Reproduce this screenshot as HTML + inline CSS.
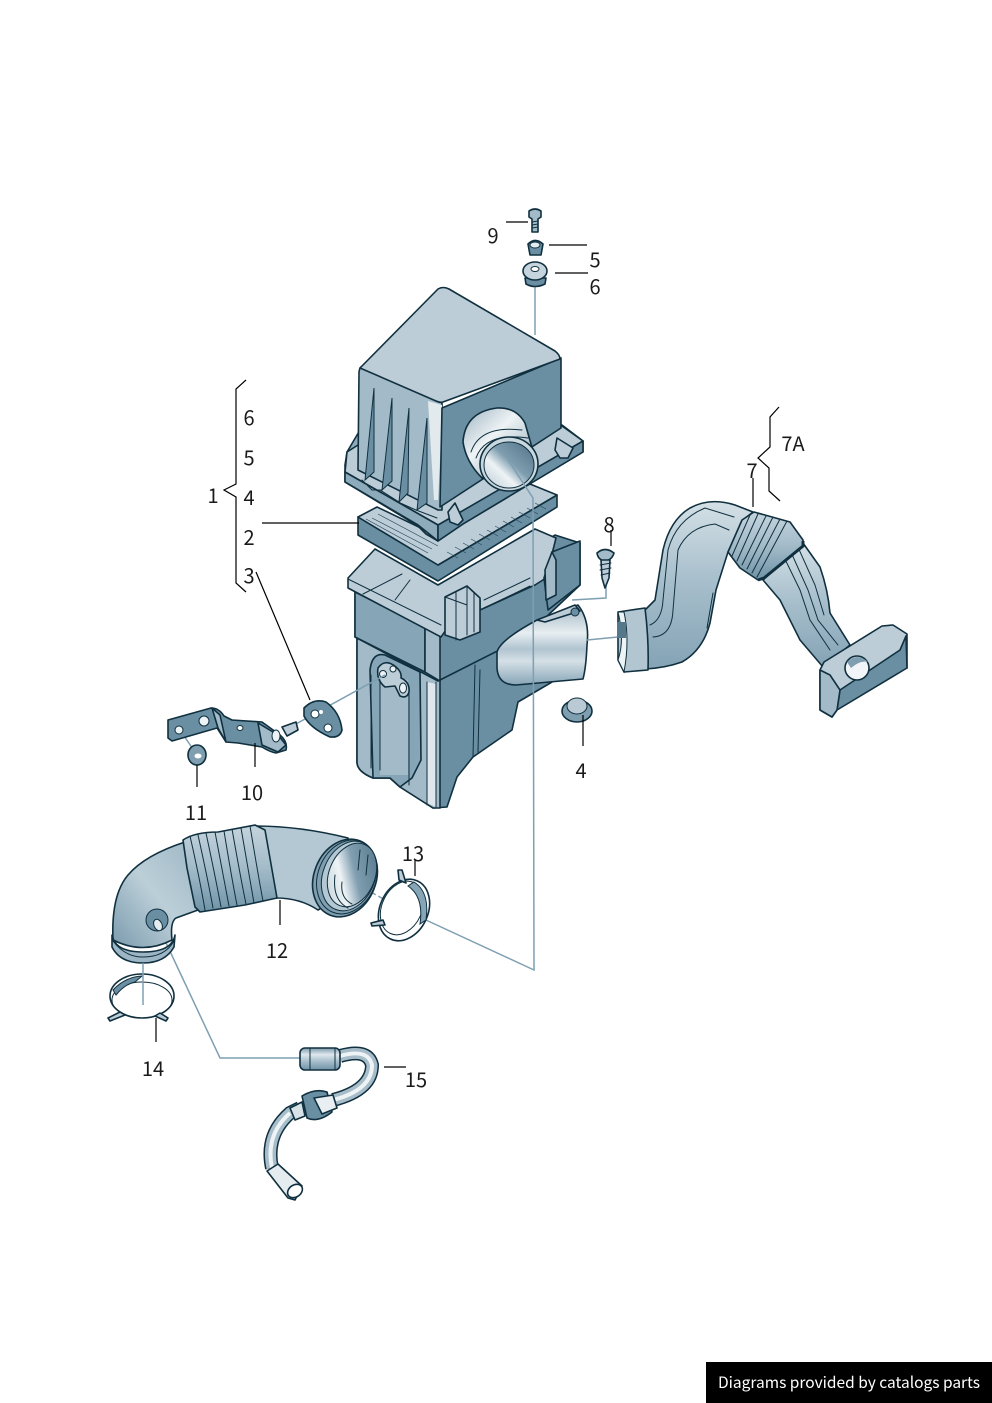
<!DOCTYPE html>
<html><head><meta charset="utf-8"><style>
html,body{margin:0;padding:0;background:#fff}
svg{display:block}
text{font-family:"Noto Sans CJK JP","Liberation Sans",sans-serif;font-size:20px;fill:#1a1a1a}
.o{stroke:#10303f;stroke-width:1.6;stroke-linejoin:round;stroke-linecap:round}
.t{stroke:#10303f;stroke-width:1;fill:none;stroke-linecap:round}
.l{stroke:#000;stroke-width:1.2;fill:none}
.c{stroke:#7f9fb2;stroke-width:1.5;fill:none}
.top{fill:#bccdd7}.mid{fill:#a3bbc9}.dk{fill:#6a8fa3}
</style></head><body>
<svg width="992" height="1403" viewBox="0 0 992 1403" xmlns="http://www.w3.org/2000/svg">
<defs>
<linearGradient id="tube" x1="0" y1="0" x2="0" y2="1"><stop offset="0" stop-color="#7c9aac"/><stop offset=".3" stop-color="#dfe8ed"/><stop offset=".6" stop-color="#a8bfcc"/><stop offset="1" stop-color="#6f93a7"/></linearGradient>
<linearGradient id="pipe" x1="0" y1="0" x2="0" y2="1"><stop offset="0" stop-color="#9fb6c4"/><stop offset=".35" stop-color="#e8eef1"/><stop offset=".55" stop-color="#b0c4d0"/><stop offset=".7" stop-color="#d5e0e6"/><stop offset="1" stop-color="#87a5b7"/></linearGradient>
<linearGradient id="h7" x1="0" y1="0" x2="0" y2="1"><stop offset="0" stop-color="#d4e0e6"/><stop offset=".45" stop-color="#a9c0cd"/><stop offset="1" stop-color="#84a3b5"/></linearGradient>
<linearGradient id="h12" x1="0" y1="1" x2="1" y2="0"><stop offset="0" stop-color="#7b9bae"/><stop offset=".5" stop-color="#bccfd8"/><stop offset="1" stop-color="#9db6c5"/></linearGradient>
<linearGradient id="rib" x1="0" y1="0" x2="0" y2="1"><stop offset="0" stop-color="#c4d4dd"/><stop offset=".5" stop-color="#a3bbc9"/><stop offset="1" stop-color="#6f93a7"/></linearGradient>
<linearGradient id="barrel" x1="0" y1="0" x2="1" y2="1"><stop offset="0" stop-color="#9eb4c1"/><stop offset=".4" stop-color="#eef3f5"/><stop offset="1" stop-color="#7e9cae"/></linearGradient>
<linearGradient id="inner" x1="1" y1="0" x2="0" y2="1"><stop offset="0" stop-color="#4f7185"/><stop offset=".45" stop-color="#7f9eb0"/><stop offset=".65" stop-color="#eef3f5"/><stop offset="1" stop-color="#b8cad4"/></linearGradient>
</defs>

<!-- lower box -->
<path class="o dk" d="M357,637 L357,763 Q358,772 373,778 L390,778 L400,787 L433,808 L447,807 L457,777 L473,757 L512,730 L518,702 L552,682 L552,640 L440,660 Z"/>
<path class="o mid" d="M357,637 L357,763 Q358,772 373,778 L390,778 L400,787 L433,808 L440,808 L440,680 Z"/>
<path class="o" fill="#86a6b8" d="M370,670 Q372,652 385,655 L420,672 L421,760 L412,778 L400,787 L390,778 L373,778 Z"/>
<path class="mid" d="M380,672 L408,680 L408,775 L390,775 L380,775 Z"/>
<path fill="#dfe7ec" d="M427,682 L436,684 L436,807 L427,803 Z"/>
<path class="o" fill="#bccdd7" d="M378,668 Q385,658 396,667 Q402,672 401,678 Q410,682 409,692 Q407,699 400,696 L395,686 L385,687 Q376,680 378,668 Z"/>
<circle cx="383" cy="674" r="3.5" fill="#eef3f5" stroke="#10303f"/><circle cx="393" cy="669" r="3" fill="#eef3f5" stroke="#10303f"/><ellipse cx="403" cy="688" rx="3.5" ry="5" fill="#eef3f5" stroke="#10303f"/>
<path class="t" d="M371,675 L371,768 M380,680 L380,770 M409,690 L409,785 M427,682 L427,805 M436,682 L436,807 M475,665 L473,757 M480,670 L478,752"/>
<!-- box upper band -->
<path class="o dk" d="M355,592 L355,637 L438,681 L525,637 L580,585 L580,543 L555,535 L450,600 Z"/>
<path class="o" fill="#86a6b8" d="M355,592 L355,637 L425,672 L425,627 Z"/>
<path class="o" fill="#a3bbc9" d="M425,627 L425,672 L440,681 L440,636 Z"/>
<!-- box rim -->
<path class="o top" d="M348,578 L375,549 L438,585 L535,529 L556,538 L546,578 L535,585 L480,610 L480,600 L448,627 L441,637 L348,588 Z"/>
<path class="t" d="M348,579 L441,625 M363,594 L402,574 M395,600 L410,580"/>
<path class="o dk" d="M544,578 L552,552 L580,541 L580,585 L548,610 Z"/>
<path class="o" fill="#a3bbc9" d="M552,552 L545,570 L546,600 L556,595 L556,560 Z"/>
<path class="o top" d="M445,597 L467,586 L480,598 L480,632 L460,640 L445,635 Z"/>
<path class="t" d="M456,592 L456,640 M467,586 L467,635 M474,592 L474,632 M445,597 L467,605"/>
<path class="t" d="M484,600 L530,578 M484,608 L530,586"/>
<!-- pipe -->
<path class="o" fill="url(#pipe)" d="M497,652 Q500,640 537,620 L578,605 Q590,620 587,645 Q586,668 583,679 L516,685 Q498,685 497,668 Z"/>
<path class="o top" d="M537,620 L575,605 L580,611 L545,622 Z"/>
<circle cx="575" cy="612" r="4" fill="#6a8fa3" stroke="#10303f"/>

<!-- filter -->
<path class="o dk" d="M358,517 L358,535 L438,581 L557,507 L557,495 L438,565 Z"/>
<path class="o top" d="M358,517 L377,507 L425,530 L530,484 L557,495 L438,565 Z"/>
<path fill="none" stroke="#284a5c" stroke-width=".7" d="M372,518 L432,549 M366,519 L428,553 M378,514 L438,546 M447,552 L458,558 M455,547 L466,553 M463,543 L474,549 M471,539 L482,545 M479,534 L490,540 M487,530 L498,536 M495,526 L506,532 M503,521 L514,527 M511,517 L522,523 M519,512 L530,518 M527,508 L538,514 M535,503 L546,509"/>

<!-- lid -->
<path class="o" fill="#8eabbb" d="M345,465 L345,482 L418,526 L426,534 L438,541 L463,524 L583,452 L583,441 L562,425 L360,430 L347,452 Z"/>
<path class="o top" d="M347,452 L358,445 L562,426 L583,441 L463,514 L438,525 L345,472 Z"/>
<path class="o" fill="#8eabbb" d="M345,472 L345,482 L418,525 L438,541 L438,525 Z"/>
<path class="o dk" d="M438,525 L438,541 L463,524 L583,452 L583,441 Z"/>
<path class="o mid" d="M359,372 Q360,366 362,367 L442,403 L442,510 L438,510 L358,470 Z"/>
<path fill="#e2eaee" d="M428,401 L442,405 L442,420 L438,500 L434,500 Z"/>
<path class="o dk" d="M442,408 L561,358 L561,428 L440,507 Z"/>
<path class="o top" d="M360,368 L438,289 Q443,286 449,289 L555,351 Q560,355 560,359 L443,402 Q440,403 436,401 Z"/>
<path fill="#6a8fa3" stroke="#10303f" d="M374,388 L365,480 L374,472 Z M392,398 L382,490 L392,481 Z M409,408 L399,502 L408,493 Z M427,418 L417,510 L427,503 Z"/>
<path class="t" d="M362,480 L372,490 L382,490 M380,490 L399,502 M398,502 L416,510 M416,510 L437,518"/>
<path class="o top" d="M448,512 L455,503 L463,520 L458,525 L450,522 Z"/>
<path class="o top" d="M555,450 L557,438 L573,448 L568,458 L560,458 Z"/>
<!-- inlet -->
<path class="o" fill="url(#barrel)" d="M463,442 Q465,412 497,408 Q516,407 525,423 L537,465 L482,478 Q466,462 463,442 Z"/>
<path class="t" d="M471,452 Q480,425 522,430 M476,458 Q485,432 528,438"/>
<ellipse cx="509" cy="464" rx="29" ry="27" fill="#c9d7de" stroke="#10303f" stroke-width="1.6"/>
<ellipse cx="509" cy="465" rx="25" ry="23" fill="url(#inner)" stroke="#10303f" stroke-width="1"/>

<!-- connectors -->
<path class="c" d="M535,285 L535,335"/>
<path class="c" d="M508,460 L533,498 L534,970 L400,908"/>
<path class="c" stroke-dasharray="28 3 4 3" d="M345,878 L400,908"/>
<path class="c" d="M385,675 L285,730"/>
<path class="c" d="M180,730 L197,755"/>
<path class="c" d="M572,600 L606,598 L606,585"/>
<path class="c" d="M587,640 L618,637"/>
<path class="c" d="M160,930 L220,1058 L300,1058"/>

<!-- 9 5 6 hardware -->
<path class="o mid" d="M529,211 Q535,207 541,211 L541,217 L538,219 L538,232 L532,232 L532,219 L529,217 Z"/>
<path class="t" d="M532,222 L538,221 M532,225 L538,224 M532,228 L538,227"/>
<path class="o dk" d="M528,244 Q535,237 543,244 L541,255 L530,255 Z"/>
<ellipse cx="535" cy="245" rx="5" ry="3" fill="#e5ecf0" stroke="#10303f"/>
<path class="o dk" d="M525,278 L526,284 Q535,289 545,284 L546,278 Z"/>
<ellipse cx="535" cy="271" rx="12" ry="9" fill="#c6d5dd" stroke="#10303f" stroke-width="1.6"/>
<ellipse cx="535" cy="269" rx="4" ry="2.5" fill="#fff" stroke="#10303f"/>

<!-- screw 8 -->
<path class="o mid" d="M597,553 Q605,546 614,553 Q612,560 605,561 Q598,560 597,553 Z"/>
<path class="o top" d="M601,560 L610,560 L609,578 L605,588 L602,578 Z"/>
<path class="t" d="M600,565 L611,563 M600,570 L611,568 M601,575 L610,573"/>

<!-- cap 4 -->
<ellipse cx="577" cy="711" rx="15" ry="11" fill="#7f9eb0" stroke="#10303f" stroke-width="1.6"/>
<ellipse cx="577" cy="706" rx="10" ry="8" fill="#b9cad4" stroke="#10303f"/>

<!-- hose 7 -->
<path class="o" fill="url(#h7)" d="M645,610 L655,600 L663,550 Q670,520 690,508 Q710,497 735,505 L753,512 L743,520 L728,552 L716,590 L710,623 Q703,650 682,662 Q665,668 645,669 Z"/>
<path class="t" d="M650,625 Q662,620 663,600 L668,550 Q676,520 705,508 L734,517 M653,637 Q672,636 673,610 L678,550 Q688,527 715,524 L729,530 M713,593 L707,628"/>
<path class="o" fill="url(#h7)" d="M763,580 L803,543 L820,567 Q828,590 830,613 L850,645 L823,667 L800,640 L780,600 Z"/>
<path class="t" d="M782,553 L800,590 L810,620 L830,650 M790,550 L808,590 L818,620 L838,645 M797,545 L815,585 L824,615"/>
<path class="o" fill="url(#rib)" d="M728,552 L742,520 L754,512 L790,522 L803,540 L803,546 L764,578 L758,580 L740,568 Z"/>
<path class="t" d="M750,515 L732,556 M758,514 L737,561 M766,516 L742,565 M773,517 L747,569 M780,519 L752,573 M787,521 L757,577" />
<path d="M803,541 L803,546 L764,578 L758,580" fill="none" stroke="#10303f" stroke-width="3"/>
<path class="o" fill="#b2c6d1" d="M618,612 L645,608 Q649,640 648,670 L624,672 L618,660 Z"/>
<path d="M618,612 Q625,640 618,660 L624,672 Q630,640 624,612 Z" fill="#eef3f5" stroke="#10303f"/>
<path fill="#55778a" d="M617,622 L626,622 L626,638 L617,638 Z"/>
<path class="o top" d="M820,670 L824,662 L882,626 L893,625 L907,634 L907,668 L905,660 L837,704 L837,710 L832,717 L820,710 Z"/>
<path class="o dk" d="M840,690 L900,650 L906,636 L907,668 L837,710 Z"/>
<path class="o mid" d="M820,670 L830,675 L840,690 L837,710 L832,717 L820,710 Z"/>
<circle cx="857" cy="668" r="12" fill="#f2f5f7" stroke="#10303f" stroke-width="1.6"/>
<path fill="#7f9eb0" d="M847,662 Q857,652 868,662 Q860,660 851,668 Z"/>

<!-- bracket 10 -->
<path class="o dk" d="M168,720 L211,708 Q219,708 224,716 L232,720 L262,722 L280,735 Q288,742 286,750 L276,753 Q270,752 262,747 L238,743 L226,742 L217,728 L172,741 L168,738 Z"/>
<path class="o mid" d="M212,708 L220,715 L226,742 L218,728 Z M258,723 L278,735 L286,745 L278,752 L262,745 Z"/>
<circle cx="204" cy="721" r="5" fill="#eef3f5" stroke="#10303f"/><circle cx="179" cy="730" r="4" fill="#eef3f5" stroke="#10303f"/><ellipse cx="240" cy="728" rx="3" ry="2.5" fill="#fff" stroke="#10303f"/><ellipse cx="276" cy="736" rx="4" ry="6" fill="#eef3f5" stroke="#10303f"/>
<!-- nut 11 -->
<ellipse cx="197" cy="755" rx="9" ry="10" fill="#7f9eb0" stroke="#10303f" stroke-width="1.6"/>
<ellipse cx="198" cy="756" rx="3.5" ry="2.5" fill="#fff"/>
<!-- pin + plate -->
<path class="o top" d="M282,727 L296,722 L298,730 L287,736 Z"/>
<path class="o dk" d="M304,708 Q314,698 326,702 Q340,712 342,730 Q340,738 330,737 Q310,728 304,716 Z"/>
<circle cx="315" cy="714" r="4" fill="#fff" stroke="#10303f"/><circle cx="328" cy="728" r="4" fill="#fff" stroke="#10303f"/><circle cx="321" cy="712" r="2" fill="#fff"/>

<!-- hose 12 -->
<path class="o" fill="url(#h12)" d="M113,940 Q111,895 128,875 Q145,855 185,842 L198,910 L176,918 Q170,922 172,940 Q143,955 113,940 Z"/>
<path class="o" fill="#b4c8d3" d="M255,826 Q300,826 348,838 L352,890 L318,910 Q300,898 276,898 Z"/>
<path class="o" fill="url(#rib)" d="M183,840 Q195,832 218,832 L255,825 L265,830 L277,898 L245,905 L200,912 L195,907 L187,868 Z"/>
<path class="t" d="M190,836 Q200,880 205,910 M198,835 Q208,880 213,908 M206,833 Q216,880 221,907 M215,832 Q224,880 229,906 M224,831 Q232,880 237,905 M232,829 Q241,880 246,904 M241,828 Q250,880 254,903 M250,826 Q259,880 263,901"/>
<ellipse cx="345" cy="878" rx="31" ry="40" transform="rotate(22 345 878)" fill="#7f9eb0" stroke="#10303f" stroke-width="1.6"/>
<ellipse cx="347" cy="877" rx="29" ry="38" transform="rotate(22 347 877)" fill="none" stroke="#10303f"/>
<ellipse cx="349" cy="876" rx="26" ry="36" transform="rotate(22 349 876)" fill="#b4c8d3" stroke="#10303f"/>
<ellipse cx="352" cy="875" rx="23" ry="33" transform="rotate(22 352 875)" fill="url(#inner)" stroke="#10303f"/>
<path class="t" d="M335,875 Q332,900 348,908 M342,882 Q340,898 352,904 M360,850 L358,870 M368,855 L366,875"/>
<path d="M112,935 Q115,952 143,952 Q172,952 175,935 L174,947 Q165,963 143,963 Q120,963 112,947 Z" fill="#9db6c5" stroke="#10303f" stroke-width="1.6" stroke-linejoin="round"/>
<path class="t" d="M113,941 Q125,957 143,957 Q165,957 174,941"/>
<circle cx="157" cy="920" r="11" fill="#6a8fa3" stroke="#10303f"/>
<ellipse cx="158" cy="925" rx="4" ry="6" transform="rotate(-25 158 925)" fill="#e5ecf0" stroke="#10303f"/>

<!-- clamp 13 -->
<ellipse cx="404" cy="910" rx="24" ry="32" transform="rotate(25 404 910)" fill="#fff" stroke="#10303f" stroke-width="1.6"/>
<ellipse cx="402" cy="908" rx="20" ry="28" transform="rotate(25 402 908)" fill="#fff" stroke="#10303f" stroke-width="1"/>
<path d="M414,882 Q430,892 426,920 L420,924 Q424,897 408,886 Z" fill="#86a6b8" stroke="#10303f"/>
<path class="o top" d="M399,880 L398,870 L402,870 L406,883 Z M383,920 L371,923 L372,926 L385,925 Z"/>
<!-- clamp 14 -->
<ellipse cx="142" cy="996" rx="32" ry="22" fill="#fff" stroke="#10303f" stroke-width="1.6"/>
<ellipse cx="142" cy="1000" rx="30" ry="18" fill="none" stroke="#10303f"/>
<path d="M113,990 Q125,977 142,976 L135,982 Q125,984 116,995 Z" fill="#6a8fa3" stroke="#10303f"/>
<path class="o top" d="M120,1012 L108,1018 L110,1021 L125,1015 Z M160,1013 L168,1018 L166,1021 L155,1016 Z"/>
<path class="c" d="M143,963 L143,1005"/>

<!-- hose 15 -->
<path d="M272,1168 Q265,1135 290,1113 L300,1108 M333,1100 Q372,1090 372,1065 Q368,1048 340,1056" fill="none" stroke="#10303f" stroke-width="14" stroke-linecap="butt"/>
<path d="M272,1168 Q265,1135 290,1113 L300,1108 M333,1100 Q372,1090 372,1065 Q368,1048 340,1056" fill="none" stroke="#a7bdca" stroke-width="11"/>
<path d="M272,1168 Q265,1135 290,1113 M333,1100 Q372,1090 372,1065 Q368,1048 340,1056" fill="none" stroke="#eef3f5" stroke-width="4"/>
<rect x="300" y="1048" width="40" height="22" rx="5" fill="url(#tube)" class="o"/>
<path class="t" d="M310,1048 L310,1070 M335,1048 L335,1070"/>
<path class="o" fill="#d7e2e8" d="M290,1108 L302,1102 L305,1116 L295,1120 Z"/>
<path class="o" fill="#6a8fa3" d="M302,1096 Q315,1088 327,1092 L332,1112 Q318,1123 307,1118 Z"/>
<path class="o" fill="#e8eef1" d="M314,1098 L333,1095 L337,1108 L322,1114 Z"/>
<path class="o" fill="#e5ecf0" d="M267,1171 L278,1164 L302,1186 L295,1200 L288,1198 Z"/>
<ellipse cx="295" cy="1191" rx="8" ry="6" transform="rotate(-35 295 1191)" fill="#fff" stroke="#10303f" stroke-width="1.6"/>

<!-- leaders -->
<path class="l" d="M506,222 H528 M549,245 H587 M555,273 H588 M262,523 H359 M256,572 L310,700 M255,743 V767 M197,765 V787 M280,900 V925 M415,860 V876 M156,1018 V1042 M384,1067 H406 M753,478 V507 M611,530 V546 M583,715 V746"/>
<path class="l" stroke-width="1" d="M246,380 L236,389 V484 L224,490 L236,497 V583 L246,592"/>
<path class="l" stroke-width="1" d="M779,407 L770,417 V447 L758,458 L769,468 V491 L780,501"/>

<!-- labels -->
<g text-anchor="middle">
<text x="493" y="243">9</text><text x="595" y="267">5</text><text x="595" y="294">6</text>
<text x="249" y="425">6</text><text x="249" y="465">5</text><text x="249" y="505">4</text><text x="249" y="545">2</text><text x="249" y="583">3</text><text x="213" y="503">1</text>
<text x="793" y="451">7A</text><text x="752" y="478">7</text><text x="609" y="532">8</text><text x="581" y="778">4</text>
<text x="252" y="800">10</text><text x="196" y="820">11</text><text x="277" y="958">12</text><text x="413" y="861">13</text><text x="153" y="1076">14</text><text x="416" y="1087">15</text>
</g>
<rect x="706" y="1362" width="286" height="41" fill="#000"/>
<text x="718" y="1388" style="font-size:15.5px;fill:#fff">Diagrams provided by catalogs parts</text>
</svg>
</body></html>
